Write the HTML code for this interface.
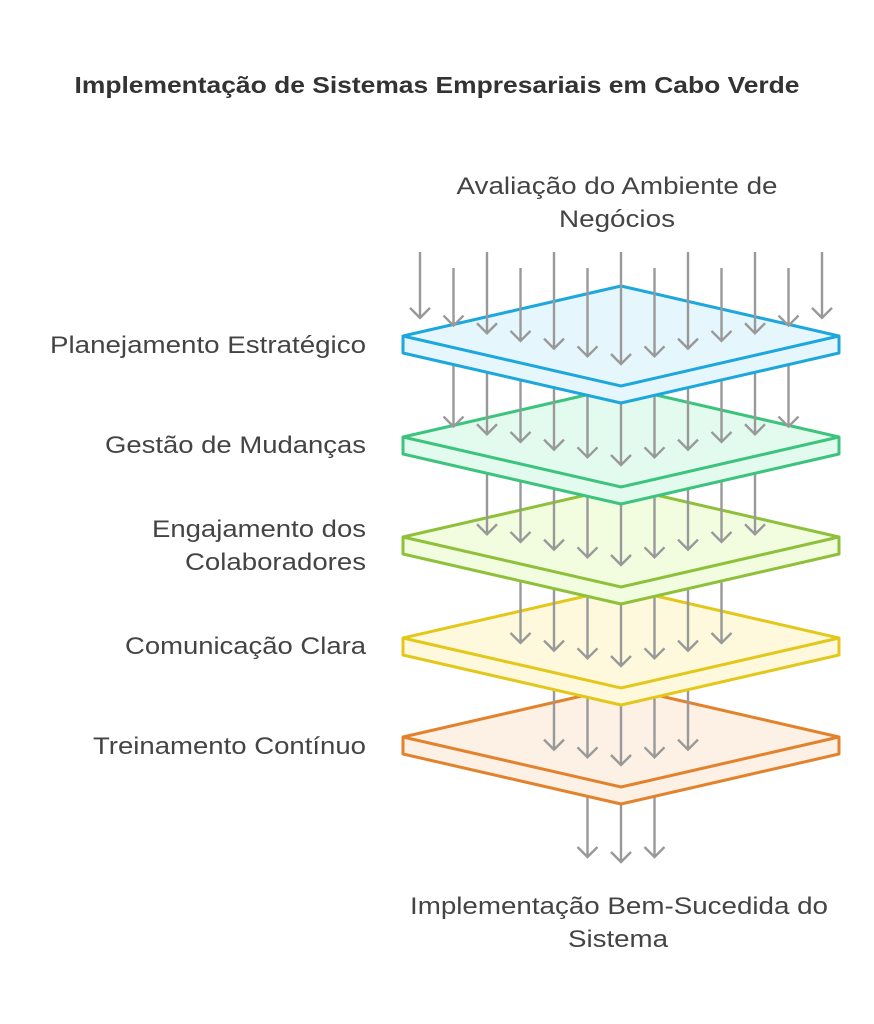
<!DOCTYPE html>
<html><head><meta charset="utf-8"><style>
body{margin:0;background:#fff;}
svg{display:block;font-family:"Liberation Sans",sans-serif;}
.l{font-size:24px;fill:#444;}
</style></head><body>
<svg id="s" width="874" height="1024" viewBox="0 0 874 1024">
<text x="437" y="93" text-anchor="middle" font-size="23" font-weight="bold" fill="#333" textLength="725" lengthAdjust="spacingAndGlyphs">Implementação de Sistemas Empresariais em Cabo Verde</text>
<text class="l" x="617" y="194" text-anchor="middle" textLength="321" lengthAdjust="spacingAndGlyphs">Avaliação do Ambiente de</text>
<text class="l" x="617" y="227" text-anchor="middle" textLength="116" lengthAdjust="spacingAndGlyphs">Negócios</text>
<text class="l" x="366" y="353" text-anchor="end" textLength="316" lengthAdjust="spacingAndGlyphs">Planejamento Estratégico</text>
<text class="l" x="366" y="453" text-anchor="end" textLength="261" lengthAdjust="spacingAndGlyphs">Gestão de Mudanças</text>
<text class="l" x="366" y="537" text-anchor="end" textLength="214" lengthAdjust="spacingAndGlyphs">Engajamento dos</text>
<text class="l" x="366" y="570" text-anchor="end" textLength="181" lengthAdjust="spacingAndGlyphs">Colaboradores</text>
<text class="l" x="366" y="654" text-anchor="end" textLength="241" lengthAdjust="spacingAndGlyphs">Comunicação Clara</text>
<text class="l" x="366" y="754" text-anchor="end" textLength="273" lengthAdjust="spacingAndGlyphs">Treinamento Contínuo</text>
<text class="l" x="619" y="914" text-anchor="middle" textLength="418" lengthAdjust="spacingAndGlyphs">Implementação Bem-Sucedida do</text>
<text class="l" x="618" y="947" text-anchor="middle" textLength="100" lengthAdjust="spacingAndGlyphs">Sistema</text>
<g id="g"></g>
</svg>
<script>
var g=document.getElementById('g'),h='';
var C=621,W=218,D=50,T=17;
var layers=[[336,'#1ea7dc','#e6f6fd'],[437,'#3cc47e','#e2fbee'],[537,'#8fc03a','#f2fde0'],[638,'#e3c81b','#fef9dc'],[737,'#e3822d','#fdf0e4']];
function xs(i){return 420+33.5*i;}
function front(L,x){return L+D*(1-Math.abs(x-C)/W);}
function arrow(x,y1,y2){return '<path d="M'+x+' '+y1+'V'+y2+'M'+(x-10)+' '+(y2-10)+'L'+x+' '+y2+'L'+(x+10)+' '+(y2-10)+'" fill="none" stroke="#999" stroke-width="2.4"/>';}
function slab(L,s,f){var l=C-W,r=C+W;return '<path d="M'+l+' '+L+'L'+C+' '+(L-D)+'L'+r+' '+L+'V'+(L+T)+'L'+C+' '+(L+D+T)+'L'+l+' '+(L+T)+'Z" fill="'+f+'" stroke="'+s+'" stroke-width="3" stroke-linejoin="round"/><path d="M'+l+' '+L+'L'+C+' '+(L+D)+'L'+r+' '+L+'" fill="none" stroke="'+s+'" stroke-width="3"/>';}
var L4=layers[4][0];
for(var i=5;i<=7;i++){var x=xs(i);h+=arrow(x,front(L4,x)+T,(i==6?862:857));}
for(var k=4;k>=0;k--){
 var L=layers[k][0];
 h+=slab(L,layers[k][1],layers[k][2]);
 for(var i=k;i<=12-k;i++){var x=xs(i);var tip=front(L,x)-22;var st;
  if(k==0){st=(i%2==0)?252:268;}else{st=front(layers[k-1][0],x)+T;}
  h+=arrow(x,st,tip);}
}
g.innerHTML=h;
</script>
</body></html>
